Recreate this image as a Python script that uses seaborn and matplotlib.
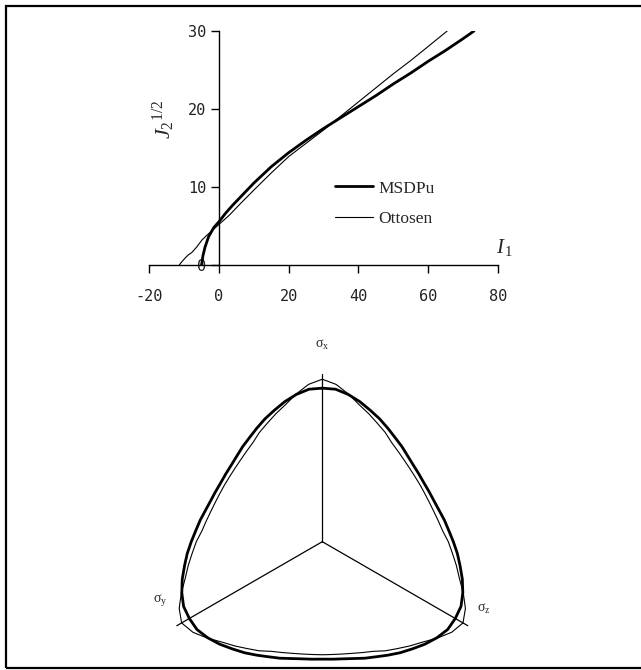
import numpy as np
import pandas as pd
import matplotlib
matplotlib.use("Agg")
import matplotlib.pyplot as plt
import seaborn as sns
from matplotlib.patches import Rectangle

sns.set_theme(style="white")
plt.rcParams["mathtext.fontset"] = "custom"
plt.rcParams["mathtext.rm"] = "Liberation Serif"
plt.rcParams["mathtext.it"] = "Liberation Serif:italic"
plt.rcParams["axes.unicode_minus"] = False

# ---- meridian plane: J2^(1/2) against I1 ----
msdpu_i1 = [-5.0, -4.6, -4.0, -3.0, -1.5, 0, 2, 4, 7, 10, 15, 20, 25, 30,
            35, 40, 45, 50, 55, 60, 65, 70, 73.2]
msdpu_j2 = [0, 1.2, 2.3, 3.6, 4.8, 5.55, 6.7, 7.7, 9.1, 10.5, 12.6, 14.4,
            16.0, 17.5, 18.9, 20.3, 21.7, 23.2, 24.6, 26.1, 27.5, 29.0, 30.0]

ottosen_i1 = [-11.4, -10.5, -9.7, -8.8, -7.8, -6.4, -4.9, -3.5, -2.0, 0, 3,
              6, 10, 15, 20, 25, 30, 35, 40, 45, 50, 55, 60, 65.5]
ottosen_j2 = [0, 0.5, 0.9, 1.3, 1.6, 2.3, 3.2, 3.8, 4.4, 5.2, 6.4, 7.8, 9.6,
              11.8, 13.9, 15.6, 17.3, 19.1, 20.9, 22.7, 24.5, 26.2, 28.0, 30.0]

x_ticks = [-20, 0, 20, 40, 60, 80]
y_ticks = [0, 10, 20, 30]

# ---- deviatoric plane: radius vs angle from the nearest principal axis ----
theta_deg = [0, 5, 10, 15, 20, 25, 30, 35, 40, 45, 50, 55, 60]
msdpu_r = [0.914, 0.911, 0.890, 0.863, 0.833, 0.807, 0.780, 0.756, 0.738,
           0.720, 0.708, 0.702, 0.699]
ottosen_r = [0.967, 0.940, 0.893, 0.845, 0.810, 0.777, 0.750, 0.720, 0.702,
             0.688, 0.679, 0.674, 0.673]
axis_angles = [90, 210, 330]
axis_names = [r"$\mathrm{σ}_{\mathrm{x}}$", r"$\mathrm{σ}_{\mathrm{y}}$",
              r"$\mathrm{σ}_{\mathrm{z}}$"]

W, H = 641, 670
fig = plt.figure(figsize=(W / 100, H / 100), dpi=100)


def fig_box(x0, y0, x1, y1):
    """Axes rectangle from pixel corners (top-left origin)."""
    return [x0 / W, 1 - y1 / H, (x1 - x0) / W, (y1 - y0) / H]


# frame around the whole figure
fig.patches.append(Rectangle((5.5 / W, 2 / H), 1.2, 1 - 7.5 / H,
                             transform=fig.transFigure, fill=False,
                             edgecolor="black", linewidth=1.6))

# ---------------- top panel ----------------
ax1 = fig.add_axes(fig_box(149.3, 31, 497.7, 265))
sns.lineplot(x=ottosen_i1, y=ottosen_j2, sort=False, estimator=None,
             color="black", linewidth=0.8, ax=ax1, label="Ottosen")
sns.lineplot(x=msdpu_i1, y=msdpu_j2, sort=False, estimator=None,
             color="black", linewidth=2.0, ax=ax1, label="MSDPu")
ax1.set_xlim(-20, 80)
ax1.set_ylim(0, 30)
ax1.spines["left"].set_position(("data", 0))
ax1.spines["bottom"].set_position(("data", 0))
ax1.spines["top"].set_visible(False)
ax1.spines["right"].set_visible(False)
for s in ("left", "bottom"):
    ax1.spines[s].set_color("black")
    ax1.spines[s].set_linewidth(1.0)
ax1.set_xticks(x_ticks)
ax1.set_yticks(y_ticks)
ax1.tick_params(axis="both", direction="out", length=6, width=1.0,
                color="black", labelsize=11, labelcolor="#222222",
                bottom=True, left=True)
ax1.tick_params(axis="x", pad=11)
ax1.tick_params(axis="y", pad=3)
for lab in ax1.get_xticklabels() + ax1.get_yticklabels():
    lab.set_family("DejaVu Sans Mono")
ax1.set_facecolor("none")

handles, labels = ax1.get_legend_handles_labels()
order = [labels.index("MSDPu"), labels.index("Ottosen")]
leg = ax1.legend([handles[i] for i in order], [labels[i] for i in order],
                 loc="center left", bbox_to_anchor=(335 / W, 1 - 203.5 / H),
                 bbox_transform=fig.transFigure, frameon=False,
                 borderpad=0, borderaxespad=0, handlelength=2.2,
                 handletextpad=0.3, labelspacing=0.8,
                 prop={"family": "Liberation Serif", "size": 12.5})
ax1.text(505 / W, 1 - 247 / H, r"$I_{\,1}$", transform=fig.transFigure,
         ha="center", va="center", fontsize=15)
ax1.text(164 / W, 1 - 119 / H, r"$J_{2}{}^{1/2}$", transform=fig.transFigure,
         ha="center", va="center", rotation=90, fontsize=16)

# ---------------- bottom panel ----------------
ax2 = fig.add_axes(fig_box(122.3, 330, 522.3, 668))
scale = 168.0
ax2.set_xlim(-200 / scale, 200 / scale)
ax2.set_ylim(-(668 - 541.7) / scale, (541.7 - 330) / scale)
ax2.axis("off")

# principal stress axes
for ang in axis_angles:
    a = np.deg2rad(ang)
    sns.lineplot(x=[0, np.cos(a)], y=[0, np.sin(a)], sort=False,
                 estimator=None, color="black", linewidth=0.9, ax=ax2)

# full yield curves from the 60-degree sector by symmetry
msdpu_lookup = dict(zip(theta_deg, msdpu_r))
ottosen_lookup = dict(zip(theta_deg, ottosen_r))
phi = np.arange(90, 90 + 361, 5)
nearest = np.array([min(abs(((p - a + 180) % 360) - 180) for a in axis_angles)
                    for p in phi]).astype(int)
curves = pd.DataFrame({
    "phi": np.deg2rad(phi),
    "r_msdpu": [msdpu_lookup[t] for t in nearest],
    "r_ottosen": [ottosen_lookup[t] for t in nearest],
})
for col, lw in (("r_ottosen", 0.8), ("r_msdpu", 2.0)):
    sns.lineplot(x=curves[col] * np.cos(curves["phi"]),
                 y=curves[col] * np.sin(curves["phi"]),
                 sort=False, estimator=None, color="black", linewidth=lw,
                 ax=ax2)

label_pos = [(322, 345), (160, 600), (484, 609)]
for name, (px, py) in zip(axis_names, label_pos):
    fig.text(px / W, 1 - py / H, name, ha="center", va="center", fontsize=10)

fig.savefig("out.png", dpi=100)
